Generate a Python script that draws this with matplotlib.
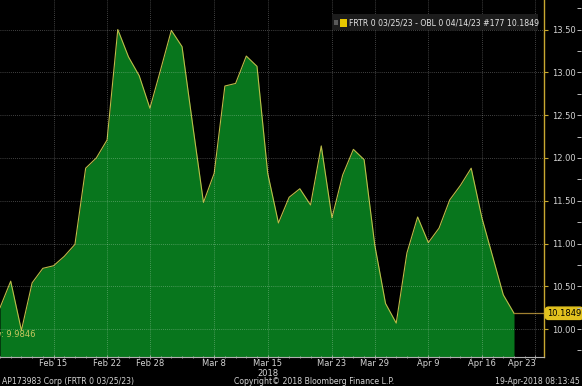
import numpy as np
import matplotlib
matplotlib.use('Agg')
import matplotlib.pyplot as plt
from matplotlib.patches import Rectangle
import matplotlib.transforms as mtrans

# spread FRTR 0 03/25/23 - OBL 0 04/14/23, business days
dates = ['2018-02-08', '2018-02-09', '2018-02-12', '2018-02-13', '2018-02-14', '2018-02-15',
         '2018-02-16', '2018-02-19', '2018-02-20', '2018-02-21', '2018-02-22', '2018-02-23',
         '2018-02-26', '2018-02-27', '2018-02-28', '2018-03-01', '2018-03-02', '2018-03-05',
         '2018-03-06', '2018-03-07', '2018-03-08', '2018-03-09', '2018-03-12', '2018-03-13',
         '2018-03-14', '2018-03-15', '2018-03-16', '2018-03-19', '2018-03-20', '2018-03-21',
         '2018-03-22', '2018-03-23', '2018-03-26', '2018-03-27', '2018-03-28', '2018-03-29',
         '2018-04-03', '2018-04-04', '2018-04-05', '2018-04-06', '2018-04-09', '2018-04-10',
         '2018-04-11', '2018-04-12', '2018-04-13', '2018-04-16', '2018-04-17', '2018-04-18',
         '2018-04-19']
spread = [10.25, 10.56, 9.9846, 10.54, 10.71, 10.74,
          10.85, 10.99, 11.88, 12.00, 12.21, 13.50,
          13.18, 12.96, 12.58, 13.03, 13.49, 13.30,
          12.38, 11.48, 11.82, 12.84, 12.87, 13.19,
          13.07, 11.82, 11.24, 11.54, 11.64, 11.45,
          12.14, 11.30, 11.80, 12.10, 11.98, 10.98,
          10.30, 10.07, 10.89, 11.31, 11.01, 11.18,
          11.51, 11.68, 11.88, 11.30, 10.85, 10.40,
          10.1849]
holidays = ['2018-03-30', '2018-04-02']

tick_dates = ['2018-02-15', '2018-02-22', '2018-02-28', '2018-03-08', '2018-03-15',
              '2018-03-23', '2018-03-29', '2018-04-09', '2018-04-16', '2018-04-23']
tick_labels = ['Feb 15', 'Feb 22', 'Feb 28', 'Mar 8', 'Mar 15',
               'Mar 23', 'Mar 29', 'Apr 9', 'Apr 16', 'Apr 23']
y_ticks = [10.00, 10.50, 11.00, 11.50, 12.00, 12.50, 13.00, 13.50]

last_val = spread[-1]
low_val = min(spread)

x = np.busday_count(dates[0], dates, holidays=holidays)
tick_pos = np.busday_count(dates[0], tick_dates, holidays=holidays)
low_pos = x[int(np.argmin(spread))]

green = '#08761d'
line_col = '#bcbc48'
axis_col = '#c8a830'
txt_col = '#d4d4d4'

fig = plt.figure(figsize=(5.82, 3.86), dpi=100, facecolor='black')
ax = fig.add_axes([0, 29 / 386, 544 / 582, 357 / 386])
ax.set_facecolor('black')

ymin, ymax = 9.674, 13.845

# far right marks (made first: twinx moves the main ticks to the left)
ax2 = ax.twinx()
ax2.set_ylim(ymin, ymax)
for s in ax2.spines.values():
    s.set_color('none')
ax2.spines['right'].set_position(('axes', 581 / 544))
ax2.set_yticks(y_ticks)
ax2.set_yticks(np.arange(9.75, 13.8, 0.25), minor=True)
ax2.tick_params(axis='y', which='both', direction='in', length=3, width=0.7,
                color='#bbbbbb', labelright=False)

ax.set_xlim(0.06, 50.8)
ax.set_ylim(ymin, ymax)

ax.fill_between(x, spread, ymin, color=green, lw=0, zorder=1)
ax.plot(x, spread, color=line_col, lw=0.8, zorder=2)
# last value guide to the axis
ax.plot([x[-1], 50.8], [last_val, last_val], color='#a08030', lw=0.9, zorder=2, clip_on=False)

ax.set_xticks(tick_pos)
ax.set_xticklabels(tick_labels)
ax.set_xticks(np.arange(0, 51), minor=True)
ax.set_yticks(y_ticks)
ax.set_yticklabels([f'{v:.2f}' for v in y_ticks])
ax.grid(True, which='major', color='white', alpha=0.35, linestyle=(0, (1, 1.5)), lw=0.6, zorder=3)
ax.set_axisbelow(False)

for s in ['left', 'top']:
    ax.spines[s].set_visible(False)
ax.spines['right'].set_color(axis_col)
ax.spines['right'].set_linewidth(1.0)
ax.spines['bottom'].set_color('#b0b0b0')
ax.spines['bottom'].set_linewidth(0.8)

ax.yaxis.tick_right()
ax.tick_params(axis='y', which='major', direction='out', length=3, width=0.8,
               color=axis_col, labelcolor=txt_col, labelsize=6, pad=3)
ax.tick_params(axis='x', which='major', direction='inout', length=3, width=0.6,
               color='#b0b0b0', labelcolor=txt_col, labelsize=6, pad=0)
ax.tick_params(axis='x', which='minor', direction='inout', length=2, width=0.6,
               color='#b0b0b0')
ax.get_xticklabels()[-1].set_ha('right')

# last value tag
ax.text(1.0 + 3 / 544, last_val, f'{last_val:.4f}', transform=ax.get_yaxis_transform(),
        ha='left', va='center', fontsize=6, color='black', zorder=5, clip_on=False,
        bbox=dict(boxstyle='round,pad=0.2,rounding_size=0.4', fc='#e2c21e', ec='#e2c21e'))

# low label
ax.annotate(f'Low: {low_val:.4f}', xy=(low_pos, low_val), xytext=(14, -4),
            textcoords='offset pixels', ha='right', va='center', fontsize=6,
            color='#c8c860', zorder=5)

# year label
trans = mtrans.blended_transform_factory(ax.transData, fig.transFigure)
ax.text(tick_pos[4], 13 / 386, '2018', transform=trans, ha='center', va='center',
        fontsize=6, color=txt_col)

# legend box
fig.patches.append(Rectangle((332 / 582, 1 - 30 / 386), 206 / 582, 16 / 386,
                             transform=fig.transFigure, fc='#1c1c1c', ec='none', zorder=4))
fig.patches.append(Rectangle((333.5 / 582, 1 - 25 / 386), 4 / 582, 5 / 386,
                             transform=fig.transFigure, fc='#5a5a5a', ec='none', zorder=5))
fig.patches.append(Rectangle((339.5 / 582, 1 - 26.5 / 386), 7 / 582, 8 / 386,
                             transform=fig.transFigure, fc='#e8c800', ec='none', zorder=5))
fig.text(349 / 582, 1 - 22.5 / 386, f'FRTR 0 03/25/23 - OBL 0 04/14/23 #177 {last_val:.4f}',
         ha='left', va='center', fontsize=5.6, color='#e6e6e6', zorder=6)

# footer
fig.text(2 / 582, 4 / 386, 'AP173983 Corp (FRTR 0 03/25/23)', ha='left', va='center',
         fontsize=5.6, color=txt_col)
fig.text(314 / 582, 4 / 386, 'Copyright\u00a9 2018 Bloomberg Finance L.P.', ha='center',
         va='center', fontsize=5.6, color=txt_col)
fig.text(580 / 582, 4 / 386, '19-Apr-2018 08:13:45', ha='right', va='center',
         fontsize=5.6, color=txt_col)

fig.savefig('out.png', dpi=100, facecolor='black')
